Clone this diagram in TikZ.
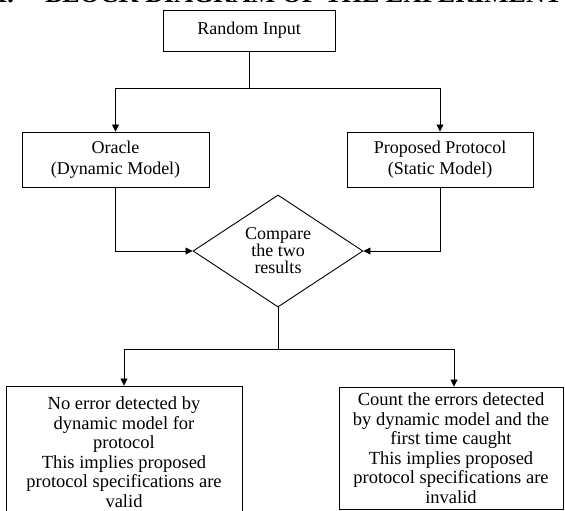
\documentclass[tikz,border=0pt]{standalone}
\usepackage{fontspec}
\setmainfont{Liberation Serif}
\usetikzlibrary{arrows.meta,shapes.geometric}
\begin{document}
\begin{tikzpicture}[x=1pt,y=-1pt,
  font=\fontsize{18}{19.5}\selectfont,
  box/.style={draw, line width=0.9pt, inner sep=0pt, align=center},
  link/.style={line width=0.8pt},
  arr/.style={link, -{Triangle[length=7pt,width=7pt]}},
  headtxt/.style={inner sep=0pt, outer sep=0pt, font=\bfseries\fontsize{26}{26}\selectfont}]
\useasboundingbox (0,0) rectangle (565,511);
\clip (0,0) rectangle (565,511);
\fill[white] (0,0) rectangle (565,511);
% heading, cut off by the top edge
\node[headtxt, anchor=east] (hnum) at (14,-5.5) {III.};
\node[headtxt, anchor=west] (head) at (45,-5.5) {BLOCK DIAGRAM OF THE EXPERIMENT};
% boxes
\node[box, minimum width=172pt, minimum height=41pt] (rand) at (249,30.5) {Random Input};
\node[box, minimum width=187pt, minimum height=55pt, font=\fontsize{18}{21}\selectfont] (orc) at (115.5,159.5) {Oracle\\(Dynamic Model)};
\node[box, minimum width=186pt, minimum height=55pt, font=\fontsize{18}{21}\selectfont] (prop) at (440,159.5) {Proposed Protocol\\(Static Model)};
\node[box, diamond, minimum width=170pt, minimum height=112pt, font=\fontsize{18}{17}\selectfont] (cmp) at (278,251) {Compare\\the two\\results};
\node[box, minimum width=236pt, minimum height=132pt, font=\fontsize{18.5}{19.5}\selectfont] (res1) at (124,452) {No error detected by\\dynamic model for\\protocol\\This implies proposed\\protocol specifications are\\valid};
\node[box, minimum width=224pt, minimum height=122pt, font=\fontsize{18.5}{19.5}\selectfont] (res2) at (451,448) {Count the errors detected\\by dynamic model and the\\first time caught\\This implies proposed\\protocol specifications are\\invalid};
% connectors
\coordinate (s1) at (249,88);
\coordinate (s2) at (278,349);
\draw[link] (rand.south) -- (s1);
\draw[arr] (s1) -| (orc.north);
\draw[arr] (s1) -| (prop.north);
\draw[arr] (orc.south) |- (cmp.west);
\draw[arr] (prop.south) |- (cmp.east);
\draw[link] (cmp.south) -- (s2);
\draw[arr] (s2) -| (res1.north);
\draw[arr] (s2) -| ([xshift=3pt]res2.north);
\end{tikzpicture}
\end{document}
